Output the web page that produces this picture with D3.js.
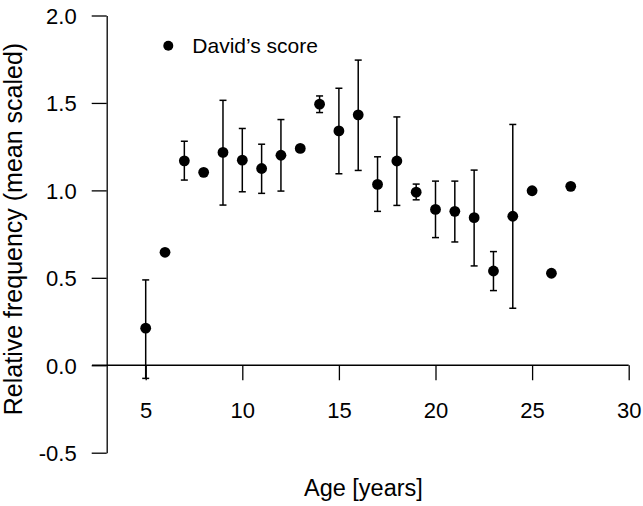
<!DOCTYPE html>
<html><head><meta charset="utf-8">
<script src="https://cdn.jsdelivr.net/npm/d3@7"></script>
<style>html,body{margin:0;padding:0;background:#fff;}svg{display:block;font-family:"Liberation Sans",Arial,sans-serif;}</style>
</head><body>
<script>
const ages   = [5, 6, 7, 8, 9, 10, 11, 12, 13, 14, 15, 16, 17, 18, 19, 20, 21, 22, 23, 24, 25, 26, 27];
const means  = [0.212, 0.646, 1.169, 1.103, 1.217, 1.173, 1.125, 1.201, 1.240, 1.493, 1.340, 1.432, 1.034, 1.168, 0.990, 0.891, 0.880, 0.844, 0.539, 0.852, 0.998, 0.526, 1.023];
const upper  = [0.488, null, 1.281, null, 1.515, 1.354, 1.264, 1.405, null, 1.540, 1.584, 1.745, 1.192, 1.420, 1.036, 1.053, 1.053, 1.116, 0.650, 1.377, null, null, null];
const lower  = [-0.075, null, 1.059, null, 0.916, 0.992, 0.983, 0.996, null, 1.445, 1.095, 1.114, 0.880, 0.914, 0.946, 0.730, 0.705, 0.568, 0.427, 0.326, null, null, null];
const xTicks = [5, 10, 15, 20, 25, 30];
const yTicks = [-0.5, 0.0, 0.5, 1.0, 1.5, 2.0];
const legendLabel = "David\u2019s score";
const xTitle = "Age [years]";
const yTitle = "Relative frequency (mean scaled)";

const W = 643, H = 506;
const svg = d3.select("body").append("svg").attr("width", W).attr("height", H);

const x = d3.scaleLinear().domain([5, 30]).range([145.7, 628.7]);
const y = d3.scaleLinear().domain([-0.5, 2.0]).range([452.7, 15.5]);

// y axis
const yAxis = d3.axisLeft(y).tickValues(yTicks).tickFormat(d3.format(".1f")).tickSize(15).tickSizeOuter(0);
const gy = svg.append("g").attr("transform", "translate(106.7,0)").call(yAxis);
gy.select(".domain").attr("stroke", "#000").attr("stroke-width", 1.3);
gy.selectAll(".tick line").attr("stroke", "#000").attr("stroke-width", 1.3);
gy.selectAll(".tick text").attr("x", -30).attr("dy", "0.36em").style("font-size", "22px").attr("fill", "#000")
  .text(d => d < 0 ? "-" + d3.format(".1f")(-d) : d3.format(".1f")(d));

// x axis at y = 0
const xAxis = d3.axisBottom(x).tickValues(xTicks).tickFormat(d3.format("d")).tickSize(15).tickSizeOuter(0);
const gx = svg.append("g").attr("transform", `translate(0,${y(0)})`).call(xAxis);
gx.select(".domain").remove();
gx.selectAll(".tick line").attr("stroke", "#000").attr("stroke-width", 1.3);
gx.selectAll(".tick text").attr("y", 37).attr("dy", "0.71em").style("font-size", "22px").attr("fill", "#000");
svg.append("line").attr("x1", 92).attr("x2", x(30)).attr("y1", y(0)).attr("y2", y(0))
  .attr("stroke", "#000").attr("stroke-width", 1.3);

// error bars
const data = ages.map((a, i) => ({a, m: means[i], hi: upper[i], lo: lower[i]}));
const eb = data.filter(d => d.hi !== null);
const cap = 3.5;
const ge = svg.append("g").attr("stroke", "#000").attr("stroke-width", 1.5);
ge.selectAll(".v").data(eb).join("line")
  .attr("x1", d => x(d.a)).attr("x2", d => x(d.a)).attr("y1", d => y(d.hi)).attr("y2", d => y(d.lo));
ge.selectAll(".t").data(eb).join("line")
  .attr("x1", d => x(d.a) - cap).attr("x2", d => x(d.a) + cap).attr("y1", d => y(d.hi)).attr("y2", d => y(d.hi));
ge.selectAll(".b").data(eb).join("line")
  .attr("x1", d => x(d.a) - cap).attr("x2", d => x(d.a) + cap).attr("y1", d => y(d.lo)).attr("y2", d => y(d.lo));

// points
svg.append("g").selectAll("circle").data(data).join("circle")
  .attr("cx", d => x(d.a)).attr("cy", d => y(d.m)).attr("r", 5.4).attr("fill", "#000");

// legend
svg.append("circle").attr("cx", 168.3).attr("cy", 45.7).attr("r", 5).attr("fill", "#000");
svg.append("text").attr("x", 192.3).attr("y", 53.3).style("font-size", "21px").attr("fill", "#000").text(legendLabel);

// axis titles
svg.append("text").attr("x", 363.4).attr("y", 496).attr("text-anchor", "middle")
  .style("font-size", "23.5px").attr("fill", "#000").text(xTitle);
svg.append("text").attr("transform", "translate(22,229) rotate(-90)").attr("text-anchor", "middle")
  .style("font-size", "25px").attr("fill", "#000").text(yTitle);
</script>
</body></html>
